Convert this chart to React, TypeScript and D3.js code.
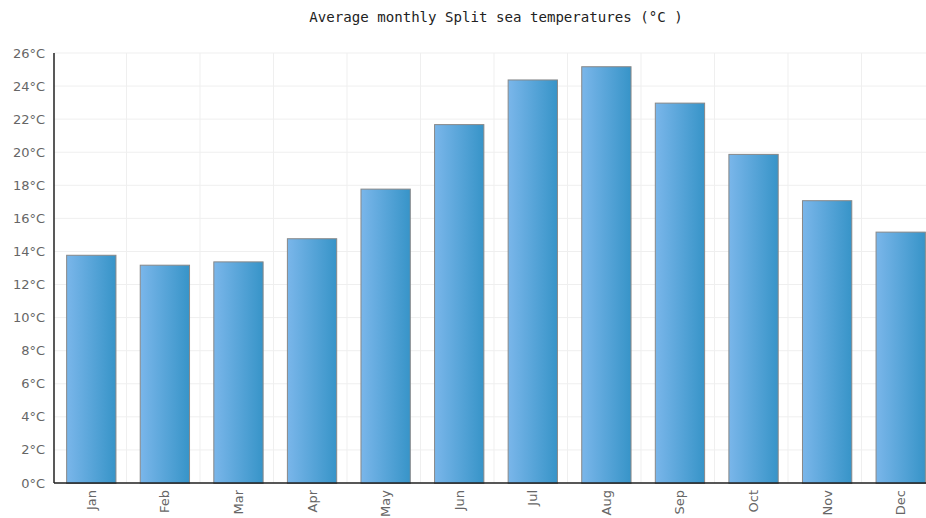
import React from "react";
import * as d3 from "d3";

const months = ["Jan", "Feb", "Mar", "Apr", "May", "Jun", "Jul", "Aug", "Sep", "Oct", "Nov", "Dec"];
const seaTemps = [13.8, 13.2, 13.4, 14.8, 17.8, 21.7, 24.4, 25.2, 23.0, 19.9, 17.1, 15.2];
const yTicks = [0, 2, 4, 6, 8, 10, 12, 14, 16, 18, 20, 22, 24, 26];
const title = "Average monthly Split sea temperatures (°C )";

const W = 926;
const H = 518;

export default function App() {
  const x = d3.scaleBand<string>().domain(months).range([54, 937]).paddingInner(0.33).paddingOuter(0.165);
  const xb = d3.scaleBand<string>().domain(months).range([53, 935]);
  const y = d3.scaleLinear().domain([0, 26]).range([483, 53]);
  const left = 54;
  const right = W;
  return (
    <svg width={W} height={H} style={{ position: "absolute", left: 0, top: 0, background: "#fff" }}>
      <defs>
        <linearGradient id="barGrad" x1="0" x2="1" y1="0" y2="0">
          <stop offset="0%" stopColor="#7ab6ea" />
          <stop offset="100%" stopColor="#3794c8" />
        </linearGradient>
      </defs>
      <text x={496} y={22} textAnchor="middle" fontFamily="DejaVu Sans Mono" fontSize={14.1} fill="#222">
        {title}
      </text>
      {/* grid */}
      {yTicks.map((t) => (
        <line key={"gy" + t} x1={left} x2={right} y1={y(t)} y2={y(t)} stroke="#efefef" strokeWidth={1} />
      ))}
      {months.map((m, i) =>
        i === 0 ? null : (
          <line key={"gx" + m} x1={xb(m)!} x2={xb(m)!} y1={y(26)} y2={y(0)} stroke="#efefef" strokeWidth={1} />
        )
      )}
      {/* bars */}
      {months.map((m, i) => (
        <rect
          key={"b" + m}
          x={x(m)! + 0.5}
          y={y(seaTemps[i]) + 0.5}
          width={x.bandwidth()}
          height={y(0) - y(seaTemps[i])}
          fill="url(#barGrad)"
          stroke="#888"
          strokeWidth={1}
        />
      ))}
      {/* axes */}
      <line x1={left} x2={left} y1={y(26)} y2={y(0)} stroke="#222" strokeWidth={1.5} />
      <line x1={left} x2={right} y1={y(0)} y2={y(0)} stroke="#222" strokeWidth={1.5} />
      {yTicks.map((t) => (
        <text
          key={"yl" + t}
          x={45}
          y={y(t) + 4.5}
          textAnchor="end"
          fontFamily="DejaVu Sans"
          fontSize={13}
          fill="#666"
        >
          {t}°C
        </text>
      ))}
      {months.map((m) => {
        const cx = x(m)! + x.bandwidth() / 2 + 5;
        return (
          <text
            key={"xl" + m}
            transform={`translate(${cx},${490}) rotate(-90)`}
            textAnchor="end"
            fontFamily="DejaVu Sans"
            fontSize={13}
            fill="#666"
          >
            {m}
          </text>
        );
      })}
    </svg>
  );
}
